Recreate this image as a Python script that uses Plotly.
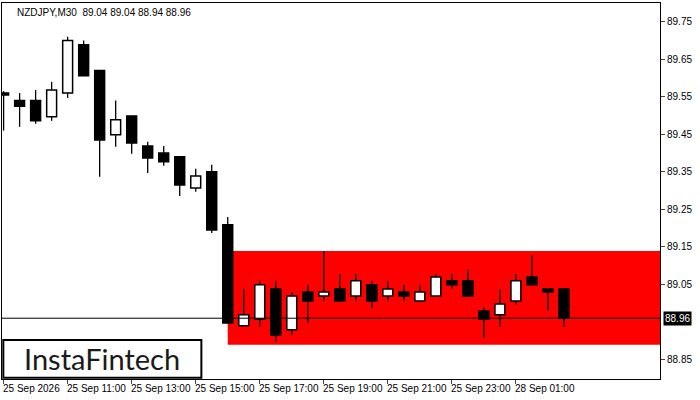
import plotly.graph_objects as go

times = ["25 Sep 09:00","25 Sep 09:30","25 Sep 10:00","25 Sep 10:30","25 Sep 11:00","25 Sep 11:30",
         "25 Sep 12:00","25 Sep 12:30","25 Sep 13:00","25 Sep 13:30","25 Sep 14:00","25 Sep 14:30",
         "25 Sep 15:00","25 Sep 15:30","25 Sep 16:00","25 Sep 16:30","25 Sep 17:00","25 Sep 17:30",
         "25 Sep 18:00","25 Sep 18:30","25 Sep 19:00","25 Sep 19:30","25 Sep 20:00","25 Sep 20:30",
         "25 Sep 21:00","25 Sep 21:30","25 Sep 22:00","25 Sep 22:30","25 Sep 23:00","25 Sep 23:30",
         "28 Sep 00:00","28 Sep 00:30","28 Sep 01:00","28 Sep 01:30","28 Sep 02:00","28 Sep 02:30"]
opens  = [89.56,89.54,89.54,89.497,89.56,89.689,89.62,89.449,89.499,89.419,89.40,89.39,89.307,89.35,
          89.209,88.94,88.958,89.038,88.929,89.03,89.019,89.038,89.019,89.049,89.019,89.03,89.006,
          89.019,89.06,89.06,88.979,88.969,89.006,89.07,89.038,89.038]
highs  = [89.565,89.56,89.568,89.59,89.71,89.70,89.62,89.54,89.499,89.43,89.419,89.39,89.358,89.369,
          89.23,89.038,89.06,89.06,89.03,89.049,89.139,89.078,89.078,89.06,89.06,89.049,89.049,
          89.078,89.078,89.089,88.99,89.038,89.078,89.129,89.038,89.038]
lows   = [89.46,89.47,89.478,89.486,89.547,89.606,89.337,89.417,89.398,89.347,89.366,89.286,89.297,89.187,
          88.945,88.939,88.937,88.897,88.915,88.947,89.006,89.006,89.006,88.987,89.006,89.006,89.006,
          89.019,89.038,89.019,88.907,88.937,88.995,89.049,88.979,88.937]
closes = [89.555,89.525,89.486,89.568,89.70,89.606,89.435,89.489,89.427,89.387,89.377,89.315,89.339,89.195,
          88.947,88.969,89.049,88.915,89.019,89.006,89.03,89.006,89.06,89.006,89.038,89.019,89.03,
          89.07,89.049,89.019,88.958,88.998,89.06,89.049,89.03,88.96]
tick_idx = [0,4,8,12,16,20,24,28,32]
tick_labels = ["25 Sep 2026","25 Sep 11:00","25 Sep 13:00","25 Sep 15:00","25 Sep 17:00",
               "25 Sep 19:00","25 Sep 21:00","25 Sep 23:00","28 Sep 01:00"]
price_ticks = [88.85,89.05,89.15,89.25,89.35,89.45,89.55,89.65,89.75]
rect_start, rect_top, rect_bottom = 14, 89.139, 88.889
last_price = 88.96

x = list(range(len(opens)))
wx, wy = [], []
for i in x:
    lo_b, hi_b = min(opens[i], closes[i]), max(opens[i], closes[i])
    wx += [i, i, None, i, i, None]
    wy += [lows[i], lo_b, None, hi_b, highs[i], None]

fig = go.Figure()
fig.add_trace(go.Scatter(x=wx, y=wy, mode="lines", line=dict(color="black", width=1.3),
                         hoverinfo="skip"))
for up, fill in [(True, "white"), (False, "black")]:
    idx = [i for i in x if (closes[i] >= opens[i]) == up]
    fig.add_trace(go.Bar(
        x=idx, base=[min(opens[i], closes[i]) for i in idx],
        y=[max(abs(closes[i] - opens[i]), 0.0015) for i in idx],
        width=0.62, marker=dict(color=fill, line=dict(color="black", width=1.5)),
        hoverinfo="skip"))

fig.add_shape(type="rect", xref="x", yref="y", x0=rect_start, x1=50, y0=rect_bottom, y1=rect_top,
              fillcolor="#ff0000", line_width=0, layer="below")
fig.add_shape(type="line", xref="paper", yref="y", x0=0, x1=1, y0=last_price, y1=last_price,
              line=dict(color="black", width=1))
for i, lab in zip(tick_idx, tick_labels):
    fig.add_annotation(x=i, y=0, xref="x", yref="paper", yshift=-2, text=lab, showarrow=False,
                       xanchor="left", yanchor="top", xshift=-3,
                       font=dict(size=10, color="black", family="Liberation Sans"))
fig.add_annotation(x=1, xref="paper", y=last_price, yref="y", text="88.96",
                   showarrow=False, xanchor="left", xshift=3, bgcolor="black", borderpad=1,
                   font=dict(color="white", size=10, family="Liberation Sans"))
fig.add_annotation(x=0.02, xref="paper", y=0.995, yref="paper", text="NZDJPY,M30  89.04 89.04 88.94 88.96",
                   showarrow=False, xanchor="left", yanchor="top",
                   font=dict(size=10, color="black", family="Liberation Sans"))
fig.add_shape(type="rect", xref="paper", yref="paper", x0=0.002, x1=0.303, y0=0.003, y1=0.104,
              fillcolor="white", line=dict(color="black", width=2))
fig.add_annotation(x=0.152, xref="paper", y=0.054, yref="paper", text="InstaFintech", showarrow=False,
                   xanchor="center", yanchor="middle",
                   font=dict(size=29, color="#1a1a1a", family="Lato"))

fig.update_layout(
    width=700, height=400, margin=dict(l=2, r=40, t=3, b=21),
    paper_bgcolor="white", plot_bgcolor="white", showlegend=False, barmode="overlay",
    xaxis=dict(range=[-0.1, 41.0], showticklabels=False,
               showgrid=False, zeroline=False, tickvals=tick_idx, ticks="outside", ticklen=4,
               showline=True, linecolor="black", mirror=True),
    yaxis=dict(side="right", range=[88.798, 89.80], tickvals=price_ticks,
               ticktext=[f"{v:.2f}" for v in price_ticks], ticks="outside", ticklen=4,
               showgrid=False, zeroline=False, showline=True, linecolor="black", mirror=True,
               tickfont=dict(size=10, color="black", family="Liberation Sans")),
)
fig.write_html("out.html", config={"displayModeBar": False},
               post_script="document.body.style.margin='0';")
